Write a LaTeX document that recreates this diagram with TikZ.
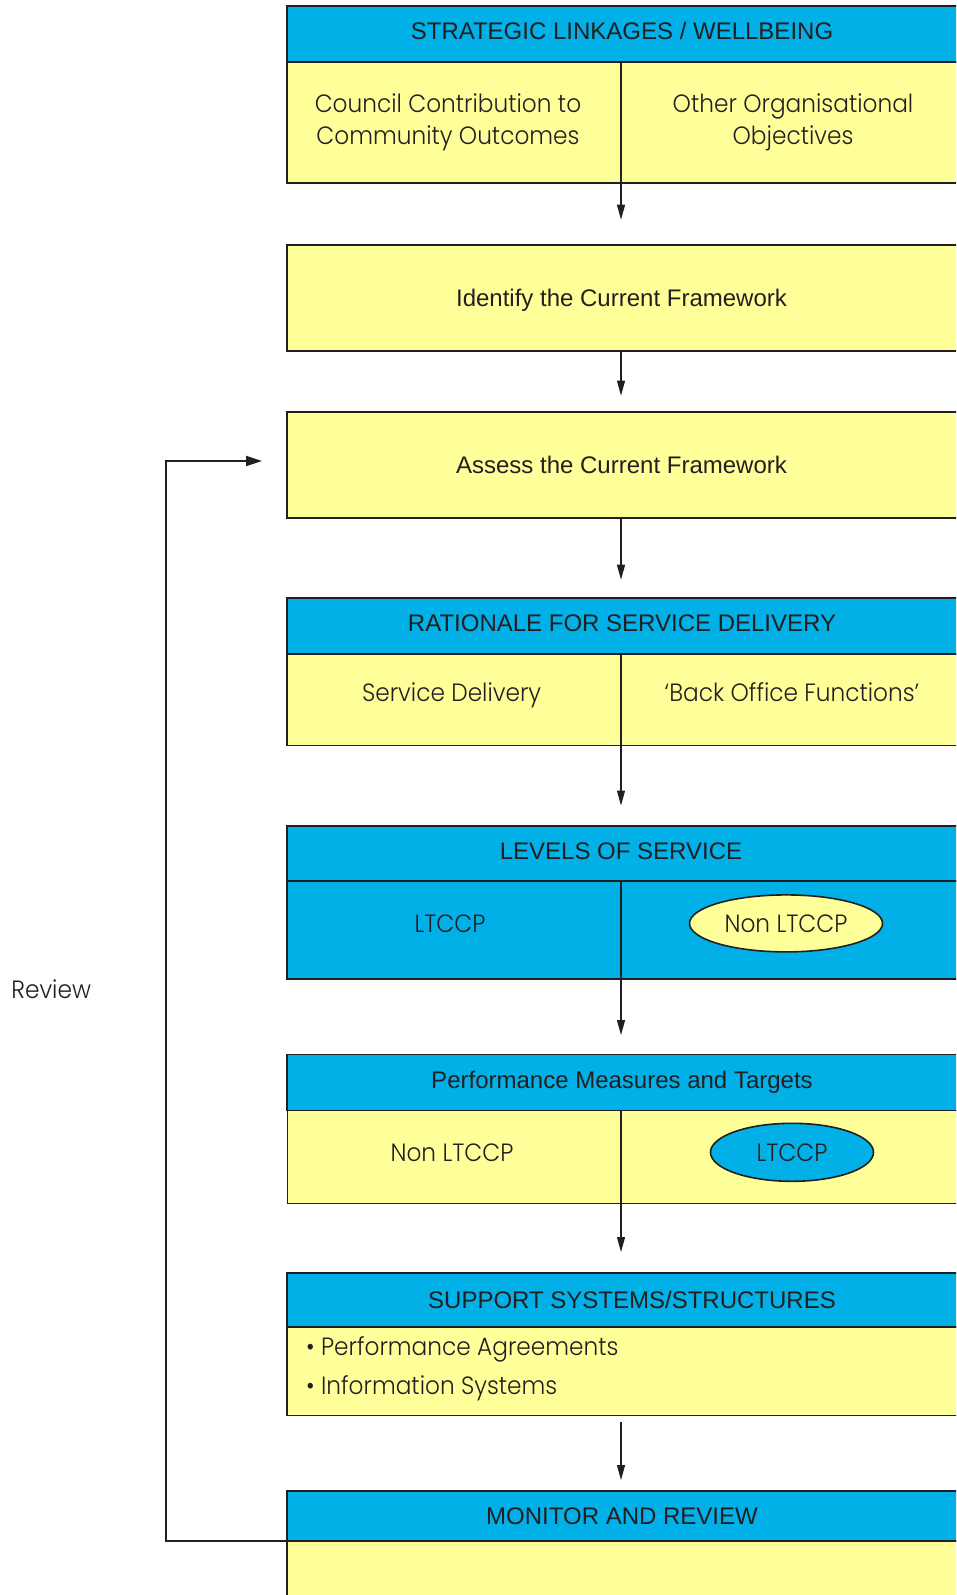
\documentclass[tikz,border=0pt]{standalone}
\usepackage{fontspec}
\setmainfont{Liberation Sans}
\newfontfamily\gothic{Poppins Light}[FakeStretch=0.93]
\usetikzlibrary{arrows.meta,shapes.geometric}
\definecolor{hdrblue}{RGB}{0,176,230}
\definecolor{boxyellow}{RGB}{255,255,153}
\definecolor{ink}{RGB}{35,31,32}
\tikzset{
  hdr/.style={draw=ink, line width=1.6pt, fill=hdrblue, minimum width=678pt, minimum height=#1, anchor=north west, inner sep=0pt, outer sep=0pt},
  ybody/.style={draw=ink, line width=1.6pt, fill=boxyellow, minimum width=678pt, minimum height=#1, anchor=north west, inner sep=0pt, outer sep=0pt},
  bbody/.style={draw=ink, line width=1.6pt, fill=hdrblue, minimum width=678pt, minimum height=#1, anchor=north west, inner sep=0pt, outer sep=0pt},
  htext/.style={font=\fontsize{24}{28}\selectfont, text=ink, inner sep=0pt, text height=17.2pt, text depth=0pt},
  gtext/.style={font=\gothic\fontsize{25}{30}\selectfont, text=ink, inner sep=0pt, text height=17.5pt, text depth=0pt},
  oval/.style={ellipse, draw=ink, line width=1.6pt, inner sep=0pt},
  arr/.style={draw=ink, line width=1.2pt, -{Triangle[length=15pt,width=8pt]}},
  fbline/.style={draw=ink, line width=1.8pt, -{Triangle[length=16pt,width=10pt]}}
}
\begin{document}
\begin{tikzpicture}[x=1pt,y=-1pt]
\clip (0,0) rectangle (956,1595);
\fill[white] (0,0) rectangle (956,1595);

% Box 1
\node[ybody=121pt] (b1b) at (287,62) {};
\node[hdr=56pt] (b1h) at (287,6) {};
\node[htext] (t1h) at (622,30.7) {STRATEGIC LINKAGES / WELLBEING};
\node[gtext] (t1l1) at (448,103.3) {Council Contribution to};
\node[gtext] (t1l2) at (448,135.8) {Community Outcomes};
\node[gtext] (t1r1) at (793,103.3) {Other Organisational};
\node[gtext] (t1r2) at (793,135.8) {Objectives};
\coordinate (a1) at (621,219.7);
\draw[arr] (b1h.south -| a1) -- (a1);

% Box 2
\node[ybody=106pt] (b2) at (287,245) {};
\node[htext] (t2) at (621.5,298.3) {Identify the Current Framework};
\coordinate (a2) at (621,395.6);
\draw[arr] (b2.south -| a2) -- (a2);

% Box 3
\node[ybody=106pt] (b3) at (287,412) {};
\node[htext] (t3) at (621.5,465) {Assess the Current Framework};
\coordinate (a3) at (621,579.7);
\draw[arr] (b3.south -| a3) -- (a3);

% Box 4
\node[ybody=91.5pt] (b4b) at (287,654) {};
\node[hdr=56pt] (b4h) at (287,598) {};
\node[htext] (t4h) at (622,622.4) {RATIONALE FOR SERVICE DELIVERY};
\node[gtext] (t4l) at (451.6,692.6) {Service Delivery};
\node[gtext] (t4r) at (792,692.6) {‘Back Office Functions’};
\coordinate (a4) at (621,805.5);
\draw[arr] (b4h.south -| a4) -- (a4);

% Box 5
\node[bbody=98pt] (b5b) at (287,881) {};
\node[hdr=55pt] (b5h) at (287,826) {};
\node[htext] (t5h) at (621,851.2) {LEVELS OF SERVICE};
\node[gtext] (t5l) at (450,923.4) {LTCCP};
\node[oval, fill=boxyellow, minimum width=193pt, minimum height=57pt] (e5) at (786,923.4) {};
\node[gtext] (t5r) at (e5.center) {Non LTCCP};
\coordinate (a5) at (621,1035);
\draw[arr] (b5h.south -| a5) -- (a5);

% Box 6
\node[ybody=92.5pt, line width=0.8pt] (b6b) at (287,1110.6) {};
\node[hdr=56pt] (b6h) at (287,1054.6) {};
\node[htext] (t6h) at (622,1080) {Performance Measures and Targets};
\node[gtext] (t6l) at (452,1152.3) {Non LTCCP};
\node[oval, fill=hdrblue, minimum width=163pt, minimum height=58pt] (e6) at (792,1152.3) {};
\node[gtext] (t6r) at (e6.center) {LTCCP};
\coordinate (a6) at (621,1252);
\draw[arr] (b6h.south -| a6) -- (a6);

% Box 7
\node[ybody=88.6pt] (b7b) at (287,1327) {};
\node[hdr=54pt] (b7h) at (287,1273) {};
\node[htext] (t7h) at (632,1299.7) {SUPPORT SYSTEMS/STRUCTURES};
\node[gtext, anchor=west] (t7a) at (306,1346.5) {• Performance Agreements};
\node[gtext, anchor=west] (t7b) at (306,1386) {• Information Systems};
\coordinate (a7s) at (621,1421.7);
\coordinate (a7) at (621,1480);
\draw[arr] (a7s) -- (a7);

% Box 8
\node[ybody=70pt] (b8b) at (287,1541) {};
\node[hdr=50pt] (b8h) at (287,1491) {};
\node[htext] (t8h) at (622,1516) {MONITOR AND REVIEW};

% Feedback loop
\coordinate (fbc) at (165.7,461);
\coordinate (fbt) at (262,461);
\draw[fbline] (b8h.south west) -| (fbc) -- (fbt);
\node[gtext, anchor=west] (rev) at (11.2,989.5) {Review};
\end{tikzpicture}
\end{document}
